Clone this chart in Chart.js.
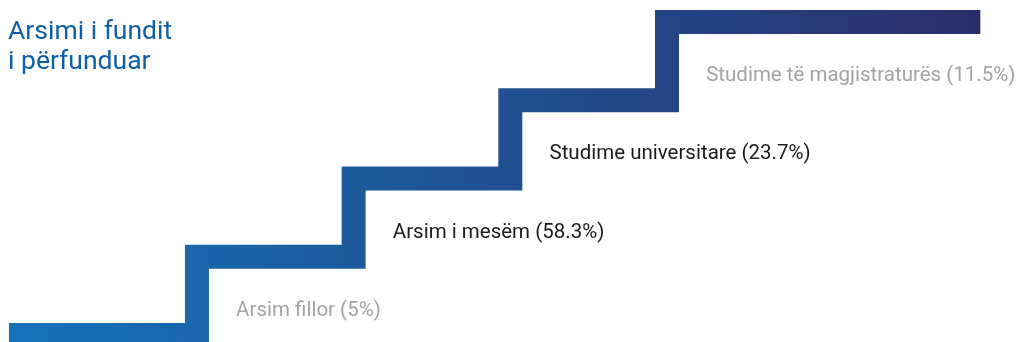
<!DOCTYPE html>
<html>
<head>
<meta charset="utf-8">
<script src="https://cdn.jsdelivr.net/npm/chart.js@4.4.0/dist/chart.umd.min.js"></script>
<style>
  body { margin: 0; background: #fff; }
  #wrap { position: relative; width: 1017px; height: 342px; }
</style>
</head>
<body>
<div id="wrap"><canvas id="stairs"></canvas></div>
<script>
// --- te dhenat ---
const titleLines = ["Arsimi i fundit", "i përfunduar"];
const levels = ["", "Arsim fillor", "Arsim i mesëm", "Studime universitare", "Studime të magjistraturës"];
const shares = [null, 5, 58.3, 23.7, 11.5];
const highlighted = [false, false, true, true, false];
const stairStart = -0.2; // ku fillon shkalla e pare
const stairEnd = 6;      // ku mbaron shkalla e fundit

// pikat e shkalles: ngritja per nivelin i ndodhet ne x = i
const points = [{ x: stairStart, y: 0 }];
levels.forEach((_, i) => { if (i > 0) points.push({ x: i, y: i }); });
points.push({ x: stairEnd, y: levels.length - 1 });

// --- etiketat dhe titulli ---
const stairLabels = {
  id: "stairLabels",
  afterDatasetsDraw(chart) {
    const { ctx, scales: { x, y } } = chart;
    ctx.save();
    ctx.textBaseline = "alphabetic";
    ctx.textAlign = "left";
    ctx.font = "20.5px Roboto";
    levels.forEach((name, i) => {
      if (!name) return;
      ctx.fillStyle = highlighted[i] ? "#1b1b1b" : "#a3a3a3";
      ctx.fillText(`${name} (${shares[i]}%)`, x.getPixelForValue(i + 0.25), y.getPixelForValue(i - 0.755));
    });
    ctx.fillStyle = "#0f5fa7";
    ctx.font = "26.5px Roboto";
    titleLines.forEach((t, k) => ctx.fillText(t, 8, 39 + k * 30));
    ctx.restore();
  }
};

new Chart(document.getElementById("stairs"), {
  type: "line",
  data: {
    datasets: [{
      data: points,
      stepped: "before",
      borderWidth: 24,
      borderCapStyle: "butt",
      borderJoinStyle: "miter",
      pointRadius: 0,
      fill: false,
      borderColor: (c) => {
        const chart = c.chart;
        if (!chart.chartArea) return "#1f4f92";
        const xs = chart.scales.x;
        const g = chart.ctx.createLinearGradient(xs.getPixelForValue(stairStart), 0, xs.getPixelForValue(stairEnd), 0);
        g.addColorStop(0, "#1573ba");
        g.addColorStop(1, "#2a2e6b");
        return g;
      }
    }]
  },
  options: {
    responsive: true,
    maintainAspectRatio: false,
    animation: false,
    layout: { padding: 0 },
    plugins: { legend: { display: false }, tooltip: { enabled: false } },
    scales: {
      x: { type: "linear", display: false, min: -0.257, max: 6.234 },
      y: { type: "linear", display: false, min: -0.09, max: 4.28 }
    }
  },
  plugins: [stairLabels]
});
</script>
</body>
</html>
